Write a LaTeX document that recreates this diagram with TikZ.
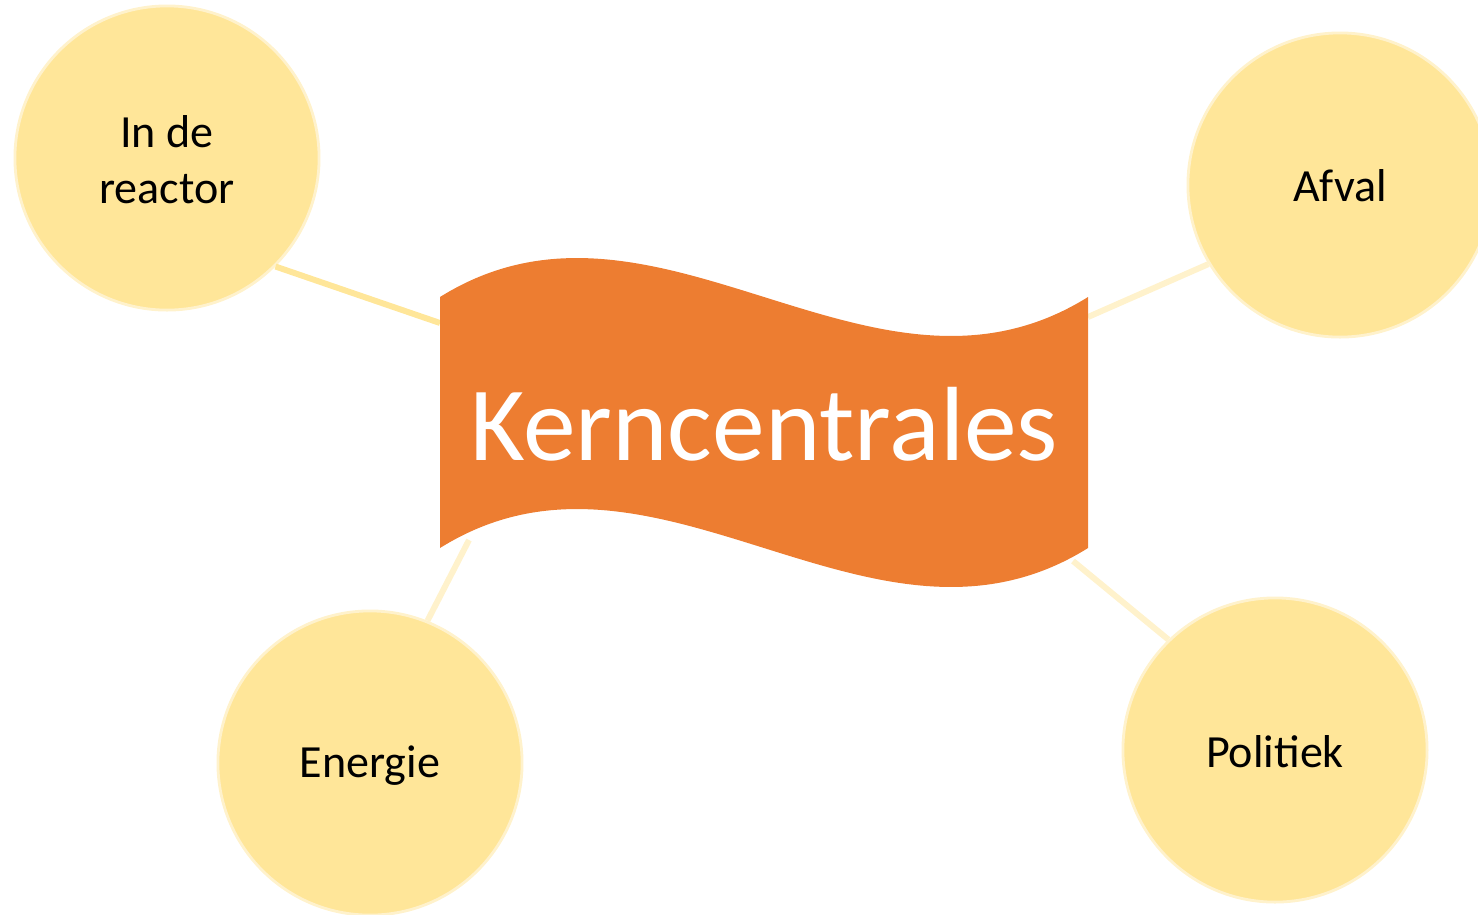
\documentclass[tikz,border=0pt]{standalone}
\usepackage{fontspec}
\setmainfont{Carlito}
\definecolor{bubble}{HTML}{FFE699}
\definecolor{bubbleedge}{HTML}{FFF2CC}
\definecolor{lightlink}{HTML}{FFF2CC}
\definecolor{banner}{HTML}{ED7D31}
\tikzset{
  topic/.style={circle, fill=bubble, draw=bubbleedge, line width=0.8pt,
    minimum size=3.04cm, inner sep=0pt, align=center,
    font=\fontsize{13.1}{16}\selectfont},
  link/.style={line width=1.7pt, draw=lightlink},
  strong link/.style={line width=1.7pt, draw=bubble},
}
\begin{document}
\begin{tikzpicture}[x=0.01cm,y=-0.01cm]
\useasboundingbox (0,0) rectangle (1478,914);
% topics
\node[topic] (reactor) at (167,158) {};
\node[topic] (afval) at (1340,185) {};
\node[topic] (energie) at (370,763) {};
\node[topic] (politiek) at (1275,750) {};
% banner anchor points
\coordinate (bTL) at (440,323);
\coordinate (bTR) at (1088,317);
\coordinate (bBL) at (469,540);
\coordinate (bBR) at (1073,561);
% connectors
\draw[strong link] (reactor.-45.3) -- (bTL);
\draw[link] (afval.211) -- (bTR);
\draw[link] (energie.68.6) -- (bBL);
\draw[link] (politiek.134.7) -- (bBR);
% banner
\fill[banner] (440,297) .. controls (656,162) and (872,432) .. (1088,297)
  -- (1088,548) .. controls (872,683) and (656,413) .. (440,548) -- cycle;
\node[anchor=base, text=white, inner sep=0pt, font=\fontsize{30}{36}\selectfont] (title) at (764,460) {Kerncentrales};
% labels
\node[font=\fontsize{13.1}{16}\selectfont, align=center, inner sep=0pt] (lreactor) at (167,160) {In de\\reactor};
\node[font=\fontsize{13.1}{16}\selectfont, inner sep=0pt] (lafval) at (1340,186) {Afval};
\node[font=\fontsize{13.1}{16}\selectfont, inner sep=0pt] (lenergie) at (370,766) {Energie};
\node[font=\fontsize{13.1}{16}\selectfont, inner sep=0pt] (lpolitiek) at (1275,752) {Politiek};
\end{tikzpicture}
\end{document}
